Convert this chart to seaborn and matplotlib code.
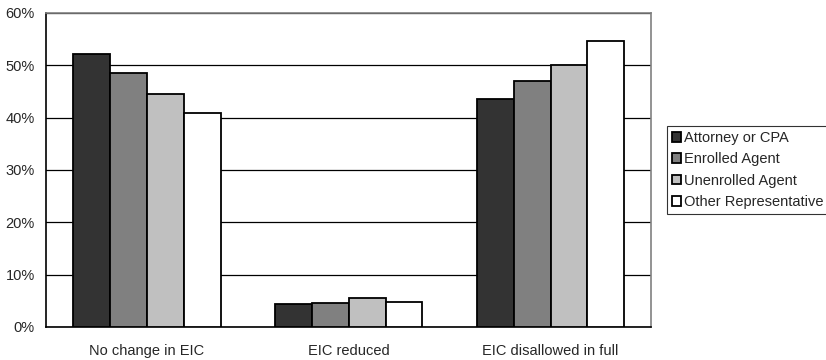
import pandas as pd
import seaborn as sns
import matplotlib.pyplot as plt
import matplotlib.ticker as ticker

# data (percent)
categories = ['No change in EIC', 'EIC reduced', 'EIC disallowed in full']
representatives = ['Attorney or CPA', 'Enrolled Agent', 'Unenrolled Agent', 'Other Representative']
attorney_cpa = [52.1, 4.4, 43.6]
enrolled_agent = [48.6, 4.6, 47.0]
unenrolled_agent = [44.5, 5.6, 50.0]
other_rep = [40.8, 4.7, 54.6]
bar_colors = ['#333333', '#808080', '#c0c0c0', '#ffffff']


def main():
    series = [attorney_cpa, enrolled_agent, unenrolled_agent, other_rep]
    rows = []
    for rep, vals in zip(representatives, series):
        for cat, v in zip(categories, vals):
            rows.append({'outcome': cat, 'rep': rep, 'pct': v})
    df = pd.DataFrame(rows)

    sns.set_style('white')
    plt.rcParams['font.family'] = ['Liberation Sans', 'DejaVu Sans']

    fig = plt.figure(figsize=(8.26, 3.6), dpi=100)
    ax = fig.add_axes([0.0557, 0.092, 0.733, 0.872])

    sns.barplot(data=df, x='outcome', y='pct', hue='rep', order=categories,
                hue_order=representatives, palette=bar_colors, width=0.73,
                edgecolor='black', linewidth=1.3, saturation=1, ax=ax, zorder=3)

    ax.set_ylim(0, 60)
    ax.set_xlim(-0.5, 2.5)
    ax.yaxis.set_major_locator(ticker.MultipleLocator(10))
    ax.yaxis.set_major_formatter(ticker.FuncFormatter(lambda v, pos: f'{v:.0f}%'))
    ax.grid(axis='y', color='black', linewidth=0.9, zorder=0)
    ax.set_axisbelow(True)
    ax.set_xlabel('')
    ax.set_ylabel('')
    ax.tick_params(axis='both', labelsize=10.5, length=0, pad=8)
    ax.tick_params(axis='x', pad=12)

    for side in ['left', 'bottom']:
        ax.spines[side].set_color('black')
        ax.spines[side].set_linewidth(1.2)
    for side in ['top', 'right']:
        ax.spines[side].set_color('#808080')
        ax.spines[side].set_linewidth(1.2)

    ax.legend(title='', loc='center left', bbox_to_anchor=(1.025, 0.5),
              frameon=True, fancybox=False, edgecolor='black', fontsize=10.5,
              handlelength=0.65, handleheight=0.65, handletextpad=0.2,
              borderpad=0.35, labelspacing=0.5, borderaxespad=0)
    ax.get_legend().get_frame().set_linewidth(0.8)

    fig.savefig('out.png', dpi=100)


if __name__ == '__main__':
    main()
